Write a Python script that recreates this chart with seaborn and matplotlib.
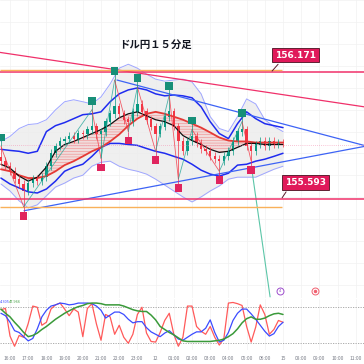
import numpy as np
import pandas as pd
import matplotlib.pyplot as plt
import seaborn as sns

# ---- USD/JPY 15 min candles, bar 0 = 15:30 (hours counted from 15:00) ----
first_open = 155.783
closes = [155.765, 155.742, 155.719, 155.683, 155.661, 155.629, 155.665, 155.683, 155.674, 155.692,
          155.742, 155.801, 155.832, 155.855, 155.864, 155.878, 155.868, 155.891, 155.887, 155.909,
          155.923, 155.887, 155.900, 155.945, 155.981, 156.013, 155.981, 155.954, 155.945, 155.990,
          156.026, 155.990, 155.954, 155.923, 155.891, 155.923, 155.968, 155.990, 155.923, 155.855,
          155.810, 155.855, 155.878, 155.846, 155.819, 155.810, 155.787, 155.774, 155.765, 155.787,
          155.810, 155.855, 155.900, 155.909, 155.832, 155.810, 155.841, 155.855, 155.832, 155.855,
          155.841, 155.850, 155.846]
highs = [155.832, 155.783, 155.760, 155.738, 155.701, 155.679, 155.683, 155.701, 155.701, 155.710,
         155.760, 155.819, 155.850, 155.873, 155.882, 155.896, 155.896, 155.909, 155.909, 155.927,
         155.999, 155.941, 155.918, 155.963, 155.999, 156.135, 156.031, 155.999, 155.972, 156.008,
         156.103, 156.045, 156.008, 155.972, 155.941, 155.941, 155.986, 156.067, 156.008, 155.941,
         155.873, 155.873, 155.909, 155.896, 155.864, 155.837, 155.828, 155.805, 155.792, 155.805,
         155.828, 155.873, 155.918, 155.945, 155.927, 155.850, 155.859, 155.873, 155.873, 155.873,
         155.873, 155.868, 155.868]
lows = [155.747, 155.724, 155.701, 155.665, 155.643, 155.557, 155.611, 155.647, 155.656, 155.656,
        155.674, 155.724, 155.783, 155.814, 155.837, 155.846, 155.850, 155.850, 155.868, 155.868,
        155.891, 155.868, 155.778, 155.882, 155.927, 155.963, 155.963, 155.936, 155.900, 155.927,
        155.972, 155.972, 155.936, 155.905, 155.810, 155.873, 155.905, 155.950, 155.905, 155.683,
        155.792, 155.792, 155.837, 155.828, 155.801, 155.792, 155.769, 155.756, 155.719, 155.747,
        155.769, 155.792, 155.837, 155.882, 155.814, 155.765, 155.792, 155.823, 155.814, 155.814,
        155.823, 155.823, 155.828]

# ---- indicators, sampled every 30 min ----
bb_outer_up = [155.855, 155.878, 155.914, 155.932, 155.936, 155.954, 155.999, 156.036, 156.045, 156.036,
               156.026, 156.058, 156.117, 156.189, 156.207, 156.189, 156.162, 156.139, 156.130, 156.135,
               156.139, 156.126, 156.072, 155.968, 155.914, 155.900, 155.968, 156.049, 156.026, 155.954,
               155.923, 155.900]
bb_outer_low = [155.661, 155.629, 155.584, 155.552, 155.566, 155.607, 155.647, 155.665, 155.688, 155.701,
                155.742, 155.760, 155.765, 155.742, 155.728, 155.719, 155.706, 155.683, 155.656, 155.629,
                155.602, 155.579, 155.602, 155.629, 155.652, 155.683, 155.692, 155.692, 155.692, 155.710,
                155.728, 155.742]
bb_inner_up = [155.819, 155.814, 155.810, 155.801, 155.810, 155.900, 155.927, 155.941, 155.959, 155.977,
               155.981, 155.990, 156.036, 156.072, 156.090, 156.099, 156.090, 156.072, 156.063, 156.067,
               156.063, 156.054, 156.013, 155.945, 155.891, 155.868, 155.936, 155.990, 155.959, 155.936,
               155.927, 155.918]
bb_inner_low = [155.688, 155.661, 155.643, 155.625, 155.620, 155.638, 155.674, 155.719, 155.738, 155.751,
                155.787, 155.828, 155.846, 155.846, 155.841, 155.837, 155.823, 155.810, 155.801, 155.787,
                155.774, 155.751, 155.724, 155.706, 155.697, 155.710, 155.747, 155.751, 155.765, 155.774,
                155.787, 155.801]
ma_fast = [155.751, 155.733, 155.697, 155.674, 155.692, 155.738, 155.810, 155.841, 155.855, 155.873,
           155.891, 155.909, 155.932, 155.963, 155.981, 155.990, 155.972, 155.954, 155.945, 155.927,
           155.882, 155.859, 155.841, 155.819, 155.805, 155.810, 155.828, 155.846, 155.846, 155.841,
           155.841, 155.841]
ma_slow = [155.728, 155.719, 155.701, 155.688, 155.688, 155.697, 155.719, 155.747, 155.765, 155.787,
           155.810, 155.828, 155.855, 155.887, 155.927, 155.959, 155.981, 155.990, 155.981, 155.968,
           155.954, 155.936, 155.918, 155.896, 155.873, 155.859, 155.855, 155.855, 155.850, 155.850,
           155.850, 155.850]

# ---- oscillator pane (per bar) ----
osc_fast = [76, 78, 32, 15, 33, 30, 53, 82, 80, 50, 55, 77, 84, 87, 77, 66, 77, 72, 31, 78,
            86, 52, 25, 68, 64, 35, 50, 30, 20, 35, 68, 80, 37, 23, 22, 38, 58, 70, 35, 15,
            30, 82, 82, 48, 40, 35, 48, 30, 17, 28, 87, 88, 86, 83, 48, 22, 47, 84, 68, 35,
            43, 58, 55]
osc_slow = [70, 66, 55, 41, 38, 31, 24, 28, 44, 64, 75, 82, 84, 87, 86, 84, 85, 87, 87, 87,
            86, 82, 75, 62, 67, 72, 72, 68, 60, 54, 56, 56, 46, 39, 35, 31, 37, 41, 34, 27,
            25, 30, 35, 39, 39, 45, 59, 38, 22, 25, 38, 58, 70, 77, 77, 69, 60, 50, 40, 32,
            36, 48, 55]
osc_trend = [77, 70, 64, 55, 47, 38, 31, 33, 37, 43, 48, 54, 60, 65, 70, 74, 78, 81, 83, 86,
             87, 87, 86, 84, 84, 84, 84, 82, 79, 76, 74, 73, 73, 67, 59, 48, 43, 38, 34, 29,
             24, 23, 23, 23, 23, 23, 23, 24, 25, 27, 31, 36, 44, 54, 61, 64, 60, 60, 62, 66,
             69, 70, 68]

hour_labels = ['16:00', '17:00', '18:00', '19:00', '20:00', '21:00', '22:00', '23:00', '12',
               '01:00', '02:00', '03:00', '04:00', '05:00', '06:00', '15', '08:00', '09:00',
               '10:00', '11:00']

pivot_high_idx = [0, 20, 25, 30, 37, 42, 53]
pivot_low_idx = [5, 22, 28, 34, 39, 48, 55]

level_top = 156.171
level_bottom = 155.593
orange_top = 156.180
orange_bottom = 155.557
last_price = 155.841

trend_pink = ([0.45, 20.45], [156.261, 156.013])
trend_blue_down = ([6.88, 20.45], [156.135, 155.837])
trend_blue_up = ([1.77, 20.45], [155.539, 155.832])
teal_line = ([14.30, 15.29], [155.719, 155.146])

# ------------------------------------------------------------------
sns.set_theme(style='white')
plt.rcParams['font.family'] = ['Noto Sans CJK JP', 'DejaVu Sans']
plt.rcParams['hatch.linewidth'] = 0.35

bar_hours = 0.5 + 0.25 * np.arange(len(closes))
band_hours = 0.5 + 0.5 * np.arange(len(ma_fast))
opens = [first_open] + closes[:-1]
bands = pd.DataFrame({'hour': band_hours, 'outer_up': bb_outer_up, 'outer_low': bb_outer_low,
                      'inner_up': bb_inner_up, 'inner_low': bb_inner_low,
                      'fast': ma_fast, 'slow': ma_slow})
osc = pd.DataFrame({'hour': bar_hours, 'fast': osc_fast, 'slow': osc_slow, 'trend': osc_trend})

fig = plt.figure(figsize=(3.64, 3.64), dpi=100)
ax = fig.add_axes([0, 0.1813, 1, 0.8187])
ax2 = fig.add_axes([0, 0.0385, 1, 0.1401])
xmin, xmax = 0.45, 20.45

# main pane
ax.fill_between(bands['hour'], bands['outer_low'], bands['outer_up'], color='#ececec', alpha=0.8, lw=0)
ax.fill_between(bands['hour'], bands['fast'], bands['slow'], facecolor=(1, 0.35, 0.35, 0.12),
                edgecolor=(0.95, 0.2, 0.2, 0.55), hatch='------', lw=0)
for col, c, lw in [('outer_up', '#9fa6ff', 0.7), ('outer_low', '#9fa6ff', 0.7),
                   ('inner_up', '#1f2bf0', 1.1), ('inner_low', '#1f2bf0', 1.1),
                   ('slow', '#e53935', 1.3), ('fast', '#111111', 0.9)]:
    sns.lineplot(data=bands, x='hour', y=col, ax=ax, color=c, linewidth=lw, legend=False)

for x0, y0 in [trend_pink]:
    ax.plot(x0, y0, color='#f0306a', lw=0.9)
ax.plot(*trend_blue_down, color='#3d63f5', lw=0.9)
ax.plot(*trend_blue_up, color='#3d63f5', lw=0.9)
ax.plot(*teal_line, color='#5cc6a8', lw=0.8)

ax.axhline(level_top, color='#f0306a', lw=1.1)
ax.axhline(level_bottom, color='#f0306a', lw=1.1)
ax.hlines([orange_top, orange_bottom], xmin, 15.95, color='#f9b15a', lw=1.0)
ax.axhline(last_price, color='#f48fb1', lw=0.5, ls=(0, (1, 2)))

# candles
up = np.array(closes) >= np.array(opens)
col = np.where(up, '#089981', '#f23645')
ax.vlines(bar_hours, lows, highs, colors=col, lw=0.5)
ax.bar(bar_hours, np.abs(np.array(closes) - np.array(opens)) + 0.002,
       bottom=np.minimum(closes, opens), width=0.13, color=col, lw=0)

# zigzag between pivots
piv = sorted([(i, highs[i]) for i in pivot_high_idx] + [(i, lows[i]) for i in pivot_low_idx])
for (i0, p0), (i1, p1) in zip(piv[:-1], piv[1:]):
    ax.plot([bar_hours[i0], bar_hours[i1]], [p0, p1], lw=0.6, alpha=0.8,
            color='#26a69a' if p1 > p0 else '#f23645')

# pivot markers
off = 0.041
hx = bar_hours[pivot_high_idx]
hy = np.array(highs)[pivot_high_idx] + off
lx = bar_hours[pivot_low_idx]
ly = np.array(lows)[pivot_low_idx] - off
ax.vlines(hx, hy - off, hy, colors='#178f78', lw=0.5)
ax.vlines(lx, ly, ly + off, colors='#e0245e', lw=0.5)
sns.scatterplot(x=hx, y=hy, marker='s', s=30, color='#178f78', edgecolor='none', ax=ax, zorder=5)
sns.scatterplot(x=lx, y=ly, marker='s', s=30, color='#e0245e', edgecolor='none', ax=ax, zorder=5)

# price tags
for (tx, ty), (px, py), txt in [((16.69, 156.248), ([15.40, 15.73], [156.176, 156.207]), '156.171'),
                                ((17.24, 155.668), ([15.95, 16.17], [155.598, 155.625]), '155.593')]:
    ax.plot(px, py, color='#5a1a2a', lw=0.7)
    ax.text(tx, ty, txt, ha='center', va='center', color='white', fontsize=6.5, fontweight='bold',
            family=['Liberation Sans Narrow', 'DejaVu Sans'],
            bbox=dict(boxstyle='square,pad=0.3', fc='#e0195a', ec='#4a1020', lw=0.6))

# event icons at pane bottom
ax.plot(15.835, 155.173, 'o', ms=5, mfc='white', mec='#9c4dcc', mew=0.7)
ax.text(15.835, 155.173, '4', ha='center', va='center', fontsize=3, color='#9c4dcc')
ax.plot(17.758, 155.173, 'o', ms=5, mfc='white', mec='#f06070', mew=0.7)
ax.plot(17.758, 155.173, 'o', ms=1.5, color='#f06070')

ax.set_xlim(xmin, xmax)
ax.set_ylim(155.141, 156.487)
ax.set_yticks(np.arange(155.2, 156.5, 0.1))
ax.set_xticks(range(1, 21))
ax.grid(True, color='#f1f1f1', lw=0.5)
ax.tick_params(left=False, bottom=False, labelleft=False, labelbottom=False)
ax.set_xlabel('')
ax.set_ylabel('')

fig.text(155 / 364, 1 - 45 / 364, 'ドル円１５分足', ha='center', va='center', fontsize=7.5,
         fontweight='bold', color='#131722')

# oscillator pane
ax2.axhline(80, color='#a0a0a0', lw=0.6, ls=(0, (1.5, 1.5)))
ax2.axhline(20, color='#a0a0a0', lw=0.6, ls=(0, (1.5, 1.5)))
sns.lineplot(data=osc, x='hour', y='fast', ax=ax2, color='#ff5a5a', linewidth=0.9)
sns.lineplot(data=osc, x='hour', y='slow', ax=ax2, color='#3b4bff', linewidth=0.9)
sns.lineplot(data=osc, x='hour', y='trend', ax=ax2, color='#3a9a3a', linewidth=1.1)
ax2.text(0.46, 88.5, '4.305', color='#3b4bff', fontsize=2.8, va='center')
ax2.text(0.95, 88.5, '47.966', color='#3a9a3a', fontsize=2.8, va='center')
ax2.set_xlim(xmin, xmax)
ax2.set_ylim(8.8, 93.8)
ax2.set_xticks(range(1, 21))
ax2.set_xticklabels(hour_labels)
ax2.set_yticks([])
ax2.grid(True, axis='x', color='#f1f1f1', lw=0.5)
ax2.tick_params(length=0, labelsize=3.5, colors='#787b86', pad=4)
ax2.set_xlabel('')
ax2.set_ylabel('')

for a in (ax, ax2):
    for s in a.spines.values():
        s.set_visible(False)

fig.savefig('out.png', dpi=100)
